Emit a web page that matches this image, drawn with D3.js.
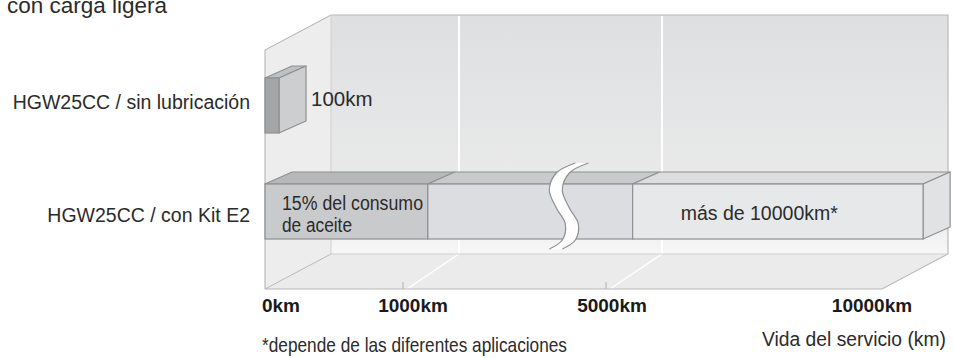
<!DOCTYPE html>
<html>
<head>
<meta charset="utf-8">
<script src="https://cdn.jsdelivr.net/npm/d3@7"></script>
<style>
body { margin: 0; background: #fff; }
svg { display: block; font-family: "Liberation Sans", Arial, sans-serif; }
</style>
</head>
<body>
<div id="chart"></div>
<script>
// data
var categories = ["HGW25CC / sin lubricación", "HGW25CC / con Kit E2"];
var tickValues = [0, 1000, 5000, 10000];
var tickLabels = ["0km", "1000km", "5000km", "10000km"];
var gridValues = [1000, 5000];
var sinLubBounds = [0, 100];              // km
var kitE2Bounds = [0, 1450, 5450, 10750]; // km, segment boundaries
var breakAt = 4100;                       // km, where the axis break is drawn
var sinLubLabel = "100km";
var kitE2Labels = [["15% del consumo", "de aceite"], [], ["más de 10000km*"]];

// styles
var sinLubFront = ["#a4a5a7"], sinLubTop = ["#bfc0c2"], sinLubEnd = "#cdced0";
var kitFront = ["#c9cacc", "#dcdde0", "#e7e8e9"];
var kitTop = ["#b7b8ba", "#c9cacc", "#dcdddf"];
var kitEnd = "#e1e2e4";
var edge = "#8f9092";
var catLabelDy = [3, 10];
var tickLabelShift = [16, 8, 4, -10];

var width = 954, height = 358;
var svg = d3.select("#chart").append("svg")
  .attr("width", width)
  .attr("height", height);

var x = d3.scaleLinear()
  .domain(tickValues)
  .range([265, 405, 608, 882]);

var y = d3.scalePoint()
  .domain(categories)
  .range([105.5, 211.5]);

var barH = 55;
var bdx = 27, bdy = -12;      // bar depth
var wdx = 66, wdy = -35;      // room depth
var floorY = 289, wallTop = 15;
var gdx = 54;                 // grid lines on back wall

var defs = svg.append("defs");
var grad = defs.append("linearGradient")
  .attr("id", "wallGrad")
  .attr("x1", 0).attr("y1", 0).attr("x2", 0).attr("y2", 1);
grad.append("stop").attr("offset", "0%").attr("stop-color", "#dedfe1");
grad.append("stop").attr("offset", "85%").attr("stop-color", "#ececec");
grad.append("stop").attr("offset", "100%").attr("stop-color", "#f7f7f7");

function pts(a) { return a.map(function(p){ return p.join(","); }).join(" "); }

var room = svg.append("g");
var x0 = x(0), xe = x(10000);

// back wall
room.append("rect")
  .attr("x", x0 + wdx).attr("y", wallTop)
  .attr("width", xe - x0).attr("height", floorY + wdy - wallTop)
  .attr("fill", "url(#wallGrad)");

// left wall
room.append("polygon")
  .attr("points", pts([[x0, wallTop - wdy], [x0 + wdx, wallTop], [x0 + wdx, floorY + wdy], [x0, floorY]]))
  .attr("fill", "#ededed");

// floor
room.append("polygon")
  .attr("points", pts([[x0, floorY], [x0 + wdx, floorY + wdy], [xe + wdx, floorY + wdy], [xe, floorY]]))
  .attr("fill", "#ebebeb");

// white grid lines on back wall and floor
room.selectAll(".gridv").data(gridValues).enter()
  .append("line")
  .attr("x1", function(d){ return x(d) + gdx; })
  .attr("x2", function(d){ return x(d) + gdx; })
  .attr("y1", wallTop + 1).attr("y2", floorY + wdy)
  .attr("stroke", "#fff").attr("stroke-width", 2);
room.selectAll(".gridf").data(gridValues).enter()
  .append("line")
  .attr("x1", function(d){ return x(d) + 2; })
  .attr("y1", floorY)
  .attr("x2", function(d){ return x(d) + gdx; })
  .attr("y2", floorY + wdy)
  .attr("stroke", "#fff").attr("stroke-width", 1.5);

// edges
var edgeC = "#b9b9b9";
room.append("polyline")
  .attr("points", pts([[x0, floorY], [x0, wallTop - wdy], [x0 + wdx, wallTop], [xe + wdx, wallTop], [xe + wdx, floorY + wdy], [xe, floorY], [x0, floorY]]))
  .attr("fill", "none").attr("stroke", edgeC).attr("stroke-width", 1.2);
room.append("polyline")
  .attr("points", pts([[x0 + wdx, wallTop], [x0 + wdx, floorY + wdy], [xe + wdx, floorY + wdy]]))
  .attr("fill", "none").attr("stroke", "#cfcfcf").attr("stroke-width", 1);
room.append("line")
  .attr("x1", x0).attr("y1", floorY).attr("x2", x0 + wdx).attr("y2", floorY + wdy)
  .attr("stroke", edgeC).attr("stroke-width", 1);

// small ticks
room.selectAll(".tick").data(gridValues).enter()
  .append("line")
  .attr("x1", function(d){ return x(d) - 2; })
  .attr("x2", function(d){ return x(d) - 2; })
  .attr("y1", floorY - 7).attr("y2", floorY)
  .attr("stroke", "#b0b0b0");

// 3D bar
function drawBar(bounds, cat, fronts, tops, endFill) {
  var g = svg.append("g");
  var yt = y(cat) - barH / 2, yb = y(cat) + barH / 2;
  var segs = d3.range(bounds.length - 1).map(function(i){
    return { i: i, a: x(bounds[i]), b: x(bounds[i + 1]) };
  });
  g.selectAll(".top").data(segs).enter()
    .append("polygon")
    .attr("points", function(d){
      return pts([[d.a, yt], [d.a + bdx, yt + bdy], [d.b + bdx, yt + bdy], [d.b, yt]]);
    })
    .attr("fill", function(d){ return tops[d.i]; })
    .attr("stroke", edge).attr("stroke-width", 1.2).attr("stroke-linejoin", "round");
  var last = segs[segs.length - 1].b;
  g.append("polygon")
    .attr("points", pts([[last, yt], [last + bdx, yt + bdy], [last + bdx, yb + bdy], [last, yb]]))
    .attr("fill", endFill)
    .attr("stroke", edge).attr("stroke-width", 1.2).attr("stroke-linejoin", "round");
  g.selectAll(".front").data(segs).enter()
    .append("rect")
    .attr("x", function(d){ return d.a; })
    .attr("y", yt)
    .attr("width", function(d){ return d.b - d.a; })
    .attr("height", barH)
    .attr("fill", function(d){ return fronts[d.i]; })
    .attr("stroke", edge).attr("stroke-width", 1.2);
  return g;
}

drawBar(sinLubBounds, categories[0], sinLubFront, sinLubTop, sinLubEnd);
drawBar(kitE2Bounds, categories[1], kitFront, kitTop, kitEnd);

// axis break symbol (white S band)
var bx = x(breakAt), bt = 163, bb = 249;
function sCurve(o) {
  return [[bx + 13 + o, bt], [bx - 6 + o, bt + 10], [bx - 13 + o, bt + 27], [bx - 6 + o, bt + 45],
          [bx + 3 + o, bt + 61], [bx + o, bt + 77], [bx - 13 + o, bb]];
}
var lineS = d3.line().curve(d3.curveCatmullRom);
var left = sCurve(0), right = sCurve(13);
svg.append("path")
  .attr("d", lineS(left) + "L" + lineS(right.slice().reverse()).slice(1) + "Z")
  .attr("fill", "#fff");
[left, right].forEach(function(c){
  svg.append("path").attr("d", lineS(c))
    .attr("fill", "none").attr("stroke", "#8f9092").attr("stroke-width", 1.2);
});

// texts
var txt = "#2b2b2b";
svg.append("text")
  .attr("x", 7).attr("y", 13)
  .attr("font-size", 22.5).attr("fill", txt)
  .text("con carga ligera");

svg.selectAll(".cat").data(categories).enter()
  .append("text")
  .attr("x", 250)
  .attr("y", function(d, i){ return y(d) + catLabelDy[i]; })
  .attr("text-anchor", "end")
  .attr("font-size", 19.5).attr("fill", txt)
  .text(function(d){ return d; });

svg.append("text")
  .attr("x", x(sinLubBounds[1]) + bdx + 5)
  .attr("y", y(categories[0]) + 0.5)
  .attr("font-size", 20.5).attr("fill", txt)
  .text(sinLubLabel);

kitE2Labels.forEach(function(lines, i){
  var left = i === 2 ? x(kitE2Bounds[i]) + 48 : x(kitE2Bounds[i]) + 17;
  var base = lines.length > 1 ? y(categories[1]) - 1.5 : y(categories[1]) + 8.5;
  lines.forEach(function(s, j){
    var t = svg.append("text")
      .attr("x", left).attr("y", base + j * 22)
      .attr("font-size", 19.5)
      .attr("fill", txt)
      .text(s);
    if (i === 0) {
      t.attr("textLength", j === 0 ? 141 : 70).attr("lengthAdjust", "spacingAndGlyphs");
    }
  });
});

svg.selectAll(".tl").data(tickValues).enter()
  .append("text")
  .attr("x", function(d, i){ return x(d) + tickLabelShift[i]; })
  .attr("y", 312)
  .attr("text-anchor", "middle")
  .attr("font-size", 19).attr("font-weight", "bold").attr("fill", "#1a1a1a")
  .text(function(d, i){ return tickLabels[i]; });

svg.append("text")
  .attr("x", 762).attr("y", 346)
  .attr("font-size", 20).attr("fill", txt)
  .attr("textLength", 184).attr("lengthAdjust", "spacingAndGlyphs")
  .text("Vida del servicio (km)");

svg.append("text")
  .attr("x", 262).attr("y", 352)
  .attr("font-size", 21).attr("fill", txt)
  .attr("textLength", 305).attr("lengthAdjust", "spacingAndGlyphs")
  .text("*depende de las diferentes aplicaciones");
</script>
</body>
</html>
